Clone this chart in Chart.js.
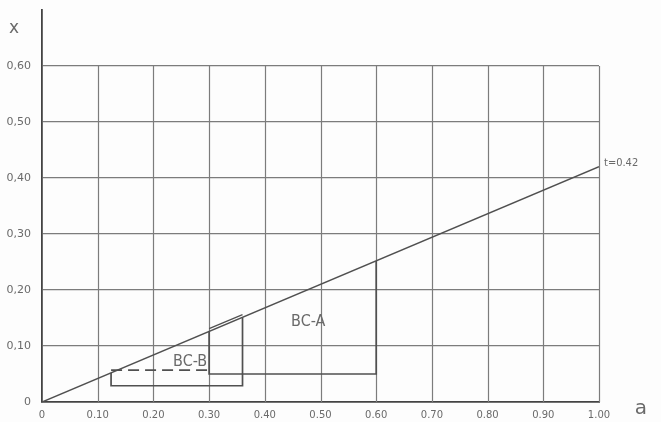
<!DOCTYPE html>
<html>
<head>
<meta charset="utf-8">
<script src="https://cdn.jsdelivr.net/npm/chart.js@4"></script>
<style>
  html, body { margin: 0; padding: 0; background: #fdfdfd; }
  #wrap { width: 661px; height: 422px; }
</style>
</head>
<body>
<div id="wrap"><canvas id="grafico"></canvas></div>
<script>
// valores
const ticksX = [0, 0.1, 0.2, 0.3, 0.4, 0.5, 0.6, 0.7, 0.8, 0.9, 1.0]
const etiquetasX = ['0', '0.10', '0.20', '0.30', '0.40', '0.50', '0.60', '0.70', '0.80', '0.90', '1.00']
const ticksY = [0, 0.1, 0.2, 0.3, 0.4, 0.5, 0.6]
const etiquetasY = ['0', '0,10', '0,20', '0,30', '0,40', '0,50', '0,60']

const rectaA = [0, 1.0]
const rectaX = [0, 0.42]

const bcA_a = [0.30, 0.30, 0.60, 0.60]
const bcA_x = [0.126, 0.05, 0.05, 0.252]

const bcB_a = [0.124, 0.124, 0.36, 0.36]
const bcB_x = [0.052, 0.029, 0.029, 0.151]

const bcBtope_a = [0.30, 0.36]
const bcBtope_x = [0.131, 0.156]

const bcBdash_a = [0.124, 0.30]
const bcBdash_x = [0.057, 0.057]

const textos = ['BC-A', 'BC-B']
const textosA = [0.478, 0.266]
const textosX = [0.143, 0.071]

const puntos = (as, xs) => as.map((a, i) => ({ x: a, y: xs[i] }))

const colorLinea = '#505050'
const colorGrid = '#7c7c7c'
const colorTexto = '#6a6a6a'
const fuente = '"DejaVu Sans Condensed", "DejaVu Sans"'

const ctx = document.getElementById('grafico').getContext('2d')

// rejilla vertical hasta 0,60 y textos sueltos
const extras = {
  id: 'extras',
  beforeDatasetsDraw(chart) {
    const { ctx } = chart
    const sx = chart.scales.x, sy = chart.scales.y
    ctx.save()
    ctx.strokeStyle = colorGrid
    ctx.lineWidth = 1.2
    ticksX.forEach(v => {
      if (v === 0) return
      const px = Math.round(sx.getPixelForValue(v)) + 0.5
      ctx.beginPath()
      ctx.moveTo(px, sy.getPixelForValue(0))
      ctx.lineTo(px, sy.getPixelForValue(0.6))
      ctx.stroke()
    })
    ctx.restore()
  },
  afterDatasetsDraw(chart) {
    const { ctx } = chart
    const sx = chart.scales.x, sy = chart.scales.y
    ctx.save()
    ctx.fillStyle = colorTexto
    ctx.font = '16px ' + fuente
    ctx.textAlign = 'center'
    ctx.textBaseline = 'middle'
    textos.forEach((t, i) => {
      ctx.fillText(t, sx.getPixelForValue(textosA[i]), sy.getPixelForValue(textosX[i]))
    })
    ctx.font = '11px ' + fuente
    ctx.textAlign = 'left'
    ctx.fillText('t=0.42', sx.getPixelForValue(1.0) + 5, sy.getPixelForValue(0.42) - 4)
    ctx.font = '17px "DejaVu Sans"'
    ctx.textAlign = 'center'
    ctx.fillText('x', 14, 29)
    ctx.font = '20px "DejaVu Sans"'
    ctx.fillText('a', sx.getPixelForValue(1.0) + 42, sy.getPixelForValue(0) + 7)
    ctx.restore()
  }
}

const lineaBase = { showLine: true, pointRadius: 0, borderWidth: 1.7, borderColor: colorLinea, tension: 0 }

const chart = new Chart(ctx, {
  type: 'scatter',
  data: {
    datasets: [
      { ...lineaBase, data: puntos(rectaA, rectaX), borderWidth: 1.5 },
      { ...lineaBase, data: puntos(bcA_a, bcA_x) },
      { ...lineaBase, data: puntos(bcB_a, bcB_x) },
      { ...lineaBase, data: puntos(bcBtope_a, bcBtope_x), borderWidth: 1.2 },
      { ...lineaBase, data: puntos(bcBdash_a, bcBdash_x), borderDash: [11, 6] }
    ]
  },
  options: {
    responsive: true,
    maintainAspectRatio: false,
    animation: false,
    layout: { padding: { top: 10, right: 62, left: 0, bottom: 0 } },
    plugins: { legend: { display: false }, tooltip: { enabled: false } },
    scales: {
      x: {
        type: 'linear', min: 0, max: 1.0,
        afterFit: s => { s.height = 20; s.paddingLeft = 0; s.paddingRight = 0 },
        afterBuildTicks: s => { s.ticks = ticksX.map(v => ({ value: v })) },
        grid: { display: false, drawTicks: false },
        border: { display: true, color: '#444', width: 1.8 },
        ticks: {
          color: colorTexto, padding: 7,
          font: { family: '"DejaVu Sans"', size: 10 },
          callback: v => etiquetasX[ticksX.indexOf(v)] ?? ''
        }
      },
      y: {
        type: 'linear', min: 0, max: 0.7,
        afterFit: s => { s.width = 42; s.paddingTop = 0; s.paddingBottom = 0 },
        afterBuildTicks: s => { s.ticks = ticksY.map(v => ({ value: v })) },
        grid: { color: c => c.tick && c.tick.value === 0 ? 'transparent' : colorGrid, drawTicks: false, lineWidth: 1.2 },
        border: { display: true, color: '#444', width: 1.8 },
        ticks: {
          color: colorTexto, padding: 11,
          font: { family: '"DejaVu Sans"', size: 11 },
          callback: v => etiquetasY[ticksY.indexOf(v)] ?? ''
        }
      }
    }
  },
  plugins: [extras]
})
</script>
</body>
</html>
